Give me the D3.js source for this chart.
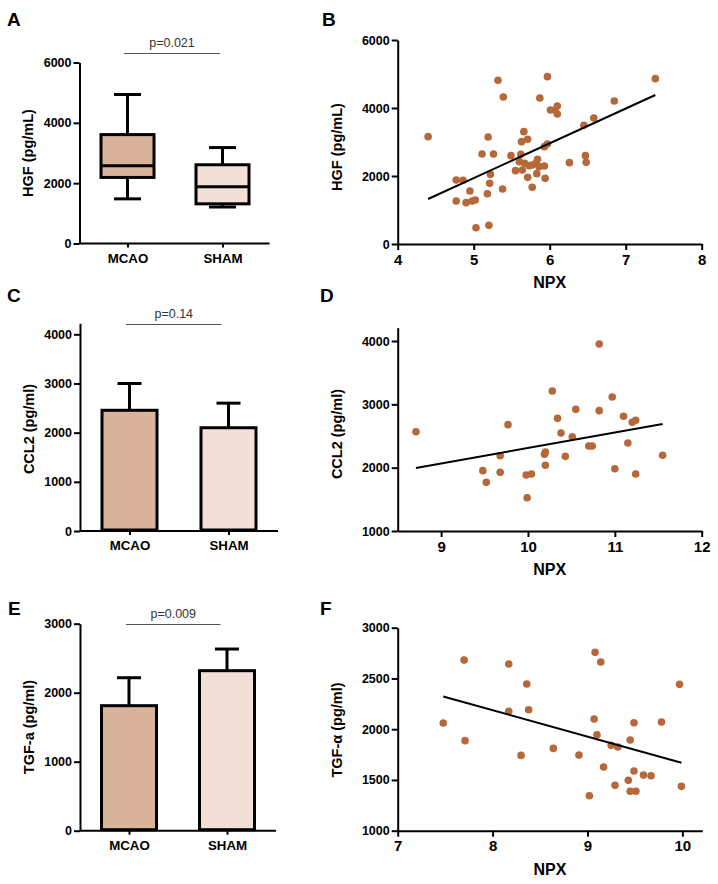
<!DOCTYPE html>
<html><head><meta charset="utf-8">
<script src="https://cdn.jsdelivr.net/npm/d3@7"></script>
<style>
body{margin:0;background:#fff;}
</style></head>
<body><svg id="c" width="718" height="884" font-family="Liberation Sans, Arial, Helvetica, sans-serif"></svg>
<script>
// ---------- DATA ----------
const groups = ["MCAO","SHAM"];
// Panel A box plot (min, q1, median, q3, max)
const hgfBox = {MCAO:[1480,2190,2580,3610,4940], SHAM:[1210,1315,1880,2610,3180]};
const hgfTicks = [0,2000,4000,6000];
// Panel B scatter
const bX = [4.40,4.77,4.86,4.77,4.90,4.95,4.98,5.02,5.03,5.11,5.19,5.18,5.21,5.22,5.20,5.26,5.32,5.38,5.39,5.49,5.55,5.60,5.62,5.63,5.66,5.71,5.64,5.67,5.71,5.73,5.77,5.77,5.82,5.84,5.83,5.87,5.86,5.93,5.94,5.93,5.97,5.97,6.01,6.07,6.10,6.10,6.26,6.45,6.47,6.48,6.58,6.85,7.39];
const bY = [3157,1882,1873,1265,1216,1559,1265,1294,480,2647,3147,1480,1784,2049,549,2647,4814,1618,4324,2598,2157,2422,2637,3010,3304,3079,2176,2373,1961,2304,2324,1667,2373,2490,2069,4294,2275,2294,1931,2863,4922,2941,3941,3941,4059,3824,2392,3490,2598,2402,3706,4206,4863];
const bFitX = [4.40,7.39], bFitY = [1324,4382];
const bXTicks = [4,5,6,7,8];
// Panel C bars (mean, error top)
const ccl2Mean = [2455,2100], ccl2Err = [3000,2600];
const ccl2Ticks = [0,1000,2000,3000,4000];
// Panel D scatter
const dX = [8.71,9.48,9.52,9.68,9.68,9.77,9.98,10.04,9.99,10.19,10.20,10.20,10.28,10.34,10.38,10.43,10.51,10.55,10.70,10.74,10.82,10.82,11.00,10.97,11.10,11.15,11.20,11.24,11.24,11.55];
const dY = [2568,1953,1768,2189,1926,2679,1884,1900,1526,2211,2247,2037,3211,2779,2547,2179,2489,2921,2342,2342,3953,2900,1984,3116,2811,2389,2716,2747,1900,2195];
const dFitX = [8.71,11.55], dFitY = [1995,2689];
const dXTicks = [9,10,11,12], dYTicks = [1000,2000,3000,4000];
// Panel E bars
const tgfMean = [1812,2319], tgfErr = [2217,2633];
const tgfTicks = [0,1000,2000,3000];
// Panel F scatter
const fX = [7.48,7.70,7.71,8.17,8.17,8.30,8.36,8.38,8.64,8.91,9.02,9.07,9.08,9.10,9.14,9.17,9.25,9.32,9.29,9.43,9.45,9.45,9.51,9.49,9.49,9.59,9.67,9.78,9.97,9.99];
const fY = [2061,2681,1887,2642,2176,1742,2445,2192,1811,1745,1345,2100,2757,1946,2662,1627,1841,1824,1447,1496,1893,1388,1388,2064,1588,1548,1542,2071,2442,1437];
const fFitX = [7.48,9.99], fFitY = [2323,1670];
const fXTicks = [7,8,9,10], fYTicks = [1000,1500,2000,2500,3000];
const pvals = ["p=0.021","p=0.14","p=0.009"];

// ---------- DRAW ----------
const FONT = "Liberation Sans, Arial, Helvetica, sans-serif";
const svg = d3.select("#c");
const fillCol = {MCAO:"#d9b29b", SHAM:"#f2e0d6"};
const dotCol = "#b5683a";
const fmt = d3.format("d");

function styleAxis(g, fs){
  g.attr("font-family",FONT);
  g.selectAll("path.domain").attr("stroke","#000").attr("stroke-width",2);
  g.selectAll(".tick line").attr("stroke","#000").attr("stroke-width",2);
  g.selectAll(".tick text").attr("fill","#000").attr("font-weight","bold").attr("font-size",fs)
   .attr("font-family",FONT);
}
function letter(t,x,y){
  svg.append("text").attr("x",x).attr("y",y).attr("font-family",FONT).attr("font-size",19).attr("font-weight","bold").text(t);
}
function ylabel(t,x,y){
  svg.append("text").attr("transform",`translate(${x},${y}) rotate(-90)`).attr("text-anchor","middle")
   .attr("dominant-baseline","central").attr("font-family",FONT).attr("font-size",14.5).attr("font-weight","bold").text(t);
}
function pline(t,x0,x1,y){
  svg.append("line").attr("x1",x0).attr("x2",x1).attr("y1",y).attr("y2",y).attr("stroke","#555").attr("stroke-width",1);
  svg.append("text").attr("x",(x0+x1)/2).attr("y",y-6.5).attr("text-anchor","middle").attr("font-family",FONT)
    .attr("font-size",12.5).attr("fill","#333").text(t);
}
function catAxes(x, y, ticks, x0, x1, yBase){
  const gy = svg.append("g").attr("transform",`translate(${x0},0)`)
    .call(d3.axisLeft(y).tickValues(ticks).tickFormat(fmt).tickSize(6).tickSizeOuter(0).tickPadding(2));
  styleAxis(gy,12.5);
  const gx = svg.append("g").attr("transform",`translate(0,${yBase})`)
    .call(d3.axisBottom(x).tickSize(4).tickSizeOuter(0).tickPadding(6));
  gx.select("path.domain").attr("d",`M${x0},0H${x1}`);
  styleAxis(gx,13.3);
}
function scatter(xs, ys, fx, fy, xsc, ysc, xt, yt){
  const gy = svg.append("g").attr("transform",`translate(${xsc.range()[0]},0)`)
    .call(d3.axisLeft(ysc).tickValues(yt).tickFormat(fmt).tickSize(6).tickSizeOuter(0).tickPadding(2));
  styleAxis(gy,12.5);
  const gx = svg.append("g").attr("transform",`translate(0,${ysc.range()[0]})`)
    .call(d3.axisBottom(xsc).tickValues(xt).tickFormat(fmt).tickSize(6).tickSizeOuter(0).tickPadding(4));
  styleAxis(gx,15);
  svg.append("g").selectAll("circle").data(d3.range(xs.length)).join("circle")
    .attr("cx",i=>xsc(xs[i])).attr("cy",i=>ysc(ys[i])).attr("r",3.8).attr("fill",dotCol);
  svg.append("line").attr("x1",xsc(fx[0])).attr("x2",xsc(fx[1])).attr("y1",ysc(fy[0])).attr("y2",ysc(fy[1]))
    .attr("stroke","#000").attr("stroke-width",2);
  svg.append("text").attr("x",(xsc.range()[0]+xsc.range()[1])/2).attr("y",ysc.range()[0]+44)
    .attr("text-anchor","middle").attr("font-family",FONT).attr("font-size",16).attr("font-weight","bold").text("NPX");
}

// Panel A
{
  const x = d3.scalePoint().domain(groups).range([80,270]).padding(0.5);
  const y = d3.scaleLinear().domain([0,6000]).range([243.5,62.5]);
  catAxes(x,y,hgfTicks,79.5,269.5,243.5);
  const bw = 53, cw = 27;
  groups.forEach(k=>{
    const [mn,q1,md,q3,mx] = hgfBox[k]; const cx = x(k);
    const g = svg.append("g").attr("stroke","#000").attr("stroke-width",3);
    g.append("line").attr("x1",cx).attr("x2",cx).attr("y1",y(mx)).attr("y2",y(q3));
    g.append("line").attr("x1",cx).attr("x2",cx).attr("y1",y(q1)).attr("y2",y(mn));
    g.append("line").attr("x1",cx-cw/2).attr("x2",cx+cw/2).attr("y1",y(mx)).attr("y2",y(mx));
    g.append("line").attr("x1",cx-cw/2).attr("x2",cx+cw/2).attr("y1",y(mn)).attr("y2",y(mn));
    g.append("rect").attr("x",cx-bw/2).attr("width",bw).attr("y",y(q3)).attr("height",y(q1)-y(q3)).attr("fill",fillCol[k]);
    g.append("line").attr("x1",cx-bw/2).attr("x2",cx+bw/2).attr("y1",y(md)).attr("y2",y(md));
  });
  letter("A",7,26); ylabel("HGF (pg/mL)",28,153); pline(pvals[0],124,220,53.5);
}
// Panel B
{
  const x = d3.scaleLinear().domain([4,8]).range([397.7,701.7]);
  const y = d3.scaleLinear().domain([0,6000]).range([244,40]);
  scatter(bX,bY,bFitX,bFitY,x,y,bXTicks,hgfTicks);
  letter("B",322,26); ylabel("HGF (pg/mL)",337,147);
}
// bar panels
function barPanel(means, errs, ticks, dom, y0, y1, xEnd){
  const x = d3.scalePoint().domain(groups).range([80,xEnd]).padding(0.5);
  const y = d3.scaleLinear().domain(dom).range([y0,y1]);
  catAxes(x,y,ticks,80,xEnd,y0);
  const bw = 55, cw = 24;
  groups.forEach((k,i)=>{
    const cx = x(k);
    const g = svg.append("g").attr("stroke","#000").attr("stroke-width",3);
    g.append("line").attr("x1",cx).attr("x2",cx).attr("y1",y(errs[i])).attr("y2",y(means[i]));
    g.append("line").attr("x1",cx-cw/2).attr("x2",cx+cw/2).attr("y1",y(errs[i])).attr("y2",y(errs[i]));
    g.append("rect").attr("x",cx-bw/2).attr("width",bw).attr("y",y(means[i])).attr("height",y(0)-y(means[i])-1)
      .attr("fill",fillCol[k]);
  });
}
// Panel C
barPanel(ccl2Mean,ccl2Err,ccl2Ticks,[0,4224],531,323.3,278);
letter("C",7,302); ylabel("CCL2 (pg/ml)",29,429); pline(pvals[1],126,221.5,324.5);
// Panel D
{
  const x = d3.scaleLinear().domain([8.5,12]).range([397.7,701.7]);
  const y = d3.scaleLinear().domain([1000,4210]).range([531,327.7]);
  scatter(dX,dY,dFitX,dFitY,x,y,dXTicks,dYTicks);
  letter("D",320,302); ylabel("CCL2 (pg/ml)",337,434);
}
// Panel E
barPanel(tgfMean,tgfErr,tgfTicks,[0,3000],830.7,623.7,276);
letter("E",8,615); ylabel("TGF-a  (pg/ml)",29,727); pline(pvals[2],126,220.5,624.5);
// Panel F
{
  const x = d3.scaleLinear().domain([7,10.21]).range([397.7,702.3]);
  const y = d3.scaleLinear().domain([1000,3000]).range([830.7,627.7]);
  scatter(fX,fY,fFitX,fFitY,x,y,fXTicks,fYTicks);
  letter("F",320,615); ylabel("TGF-\u03B1 (pg/ml)",337,730);
}
</script></body></html>
